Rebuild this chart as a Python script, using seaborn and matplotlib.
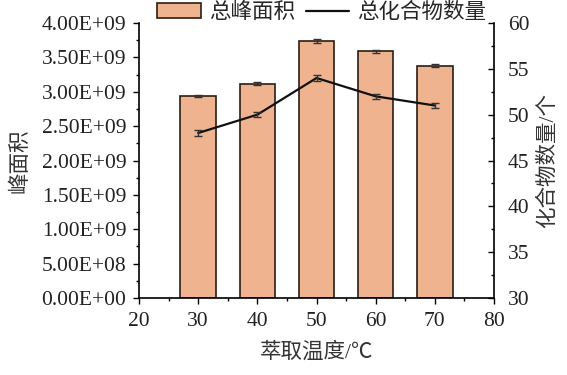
import matplotlib
matplotlib.use("Agg")
import matplotlib.pyplot as plt
import seaborn as sns
import pandas as pd
from matplotlib.ticker import MultipleLocator, FuncFormatter
from matplotlib.patches import Patch
from matplotlib.lines import Line2D

temps = [30, 40, 50, 60, 70]
peak_area = [2.94e9, 3.12e9, 3.74e9, 3.59e9, 3.38e9]
peak_err = [0.02e9, 0.02e9, 0.025e9, 0.02e9, 0.02e9]
compounds = [48, 50, 54, 52, 51]
comp_err = [0.3, 0.3, 0.3, 0.3, 0.3]

sns.set_theme(style="white")
plt.rcParams['font.family'] = ['Liberation Serif', 'Noto Sans CJK SC']
plt.rcParams['axes.unicode_minus'] = False

df = pd.DataFrame({"temp": temps, "area": peak_area, "n": compounds})

fig = plt.figure(figsize=(5.67, 3.75), dpi=100)
ax = fig.add_axes([139/567, 1-298/375, (494-139)/567, (298-23)/375])

FS = 15.5
bar_color = "#EFB390"
edge = "#2b1d14"
sns.barplot(data=df, x="temp", y="area", native_scale=True, width=0.6,
            color=bar_color, edgecolor=edge, linewidth=1.2, saturation=1,
            errorbar=None, ax=ax)
ax.errorbar(temps, peak_area, yerr=peak_err, fmt="none", ecolor="#333333",
            elinewidth=1, capsize=3, capthick=1)

ax.set_xlim(20, 80)
ax.set_ylim(0, 4e9)
ax.xaxis.set_major_locator(MultipleLocator(10))
ax.xaxis.set_minor_locator(MultipleLocator(5))
ax.yaxis.set_major_locator(MultipleLocator(5e8))
ax.yaxis.set_minor_locator(MultipleLocator(2.5e8))
ax.yaxis.set_major_formatter(FuncFormatter(lambda v, p: ("%.2E" % v)))
ax.set_xlabel("萃取温度/℃", fontsize=FS, color="#333333", labelpad=8)
ax.set_ylabel("峰面积", fontsize=FS, color="#333333", labelpad=8)
ax.tick_params(axis="both", which="major", labelsize=FS, labelcolor="#222222",
               direction="out", length=4, width=1, color="black")
ax.tick_params(axis="x", which="major", pad=6)
ax.tick_params(axis="y", which="major", pad=5)
ax.tick_params(axis="both", which="minor", direction="out", length=2, width=1, color="black")
ax.tick_params(axis="x", which="both", bottom=True)
ax.tick_params(axis="y", which="both", left=True)

for s in ["left", "bottom"]:
    ax.spines[s].set_color("black")
    ax.spines[s].set_linewidth(1.2)
ax.spines["top"].set_visible(False)
ax.spines["right"].set_visible(False)

ax2 = ax.twinx()
sns.lineplot(x=temps, y=compounds, color="#111111", linewidth=1.6, ax=ax2)
ax2.errorbar(temps, compounds, yerr=comp_err, fmt="none", ecolor="#333333",
             elinewidth=1, capsize=3, capthick=1)
ax2.set_ylim(30, 60)
ax2.yaxis.set_major_locator(MultipleLocator(5))
ax2.yaxis.set_minor_locator(MultipleLocator(2.5))
ax2.set_ylabel("化合物数量/个", fontsize=FS, color="#333333", labelpad=6)
ax2.tick_params(axis="y", which="major", labelsize=FS, labelcolor="#222222",
                direction="in", length=4, width=1, color="black", right=True, pad=10)
ax2.tick_params(axis="y", which="minor", direction="in", length=2, width=1, color="black", right=True)
for s in ["top", "left", "bottom"]:
    ax2.spines[s].set_visible(False)
ax2.spines["right"].set_color("black")
ax2.spines["right"].set_linewidth(1.2)

handles = [Patch(facecolor=bar_color, edgecolor=edge, linewidth=1.2),
           Line2D([], [], color="#111111", linewidth=1.6)]
fig.legend(handles, ["总峰面积", "总化合物数量"], loc="center",
           bbox_to_anchor=(322/567, 1-13/375), ncol=2, frameon=False,
           fontsize=FS, handlelength=2.0, handletextpad=0.4, columnspacing=0.5,
           borderaxespad=0, borderpad=0)

fig.savefig("out.png", dpi=100)
